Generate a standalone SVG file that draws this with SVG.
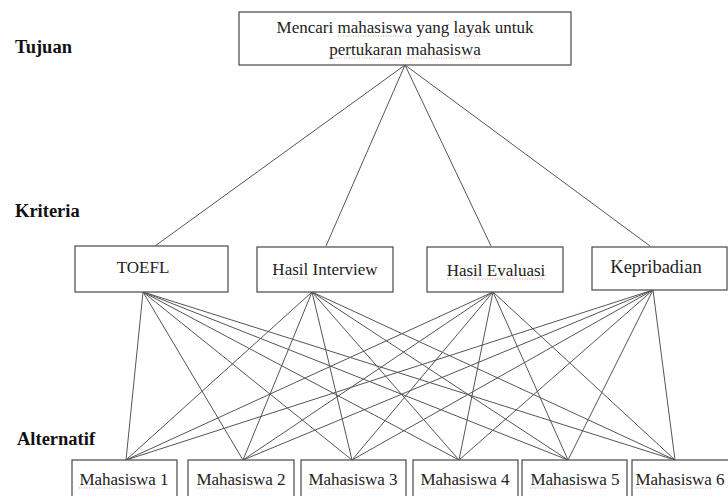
<svg xmlns="http://www.w3.org/2000/svg" width="728" height="496" viewBox="0 0 728 496">
<style>
.box{fill:#fff;stroke:#555;stroke-width:1.3}
.t{font-family:'Liberation Serif','Times New Roman',serif;font-size:17px;fill:#222;text-anchor:middle}
.lbl{font-family:'Liberation Serif','Times New Roman',serif;font-size:18.5px;font-weight:bold;fill:#111}
.k{font-size:18.5px}
#connectors line{stroke:#555;stroke-width:1}
#spellcheck line{stroke:#d44;stroke-width:1;stroke-dasharray:1 1.5;opacity:0.55}
</style>
<rect width="728" height="496" fill="#fff"/>
<g id="labels">
<text class="lbl" x="15" y="53">Tujuan</text>
<text class="lbl" x="15" y="217">Kriteria</text>
<text class="lbl" x="17" y="445">Alternatif</text>
</g>
<g id="connectors">
<line x1="405" y1="65" x2="155" y2="246"/>
<line x1="405" y1="65" x2="326" y2="246"/>
<line x1="405" y1="65" x2="491" y2="246"/>
<line x1="405" y1="65" x2="650" y2="246"/>
<line x1="143" y1="292" x2="126" y2="460"/><line x1="143" y1="292" x2="243" y2="460"/><line x1="143" y1="292" x2="352" y2="460"/><line x1="143" y1="292" x2="459" y2="460"/><line x1="143" y1="292" x2="568" y2="460"/><line x1="143" y1="292" x2="675" y2="460"/>
<line x1="312" y1="292" x2="126" y2="460"/><line x1="312" y1="292" x2="243" y2="460"/><line x1="312" y1="292" x2="352" y2="460"/><line x1="312" y1="292" x2="459" y2="460"/><line x1="312" y1="292" x2="568" y2="460"/><line x1="312" y1="292" x2="675" y2="460"/>
<line x1="493" y1="292" x2="126" y2="460"/><line x1="493" y1="292" x2="243" y2="460"/><line x1="493" y1="292" x2="352" y2="460"/><line x1="493" y1="292" x2="459" y2="460"/><line x1="493" y1="292" x2="568" y2="460"/><line x1="493" y1="292" x2="675" y2="460"/>
<line x1="653" y1="290" x2="126" y2="460"/><line x1="653" y1="290" x2="243" y2="460"/><line x1="653" y1="290" x2="352" y2="460"/><line x1="653" y1="290" x2="459" y2="460"/><line x1="653" y1="290" x2="568" y2="460"/><line x1="653" y1="290" x2="675" y2="460"/>
</g>
<g id="goal">
<rect class="box" x="239" y="12" width="332" height="53"/>
<text class="t" x="405" y="33">Mencari mahasiswa yang layak untuk</text>
<text class="t" x="405" y="55">pertukaran mahasiswa</text>
</g>
<g id="toefl"><rect class="box" x="75" y="246" width="153" height="46"/><text class="t" x="143" y="273">TOEFL</text></g>
<g id="interview"><rect class="box" x="257" y="247" width="136" height="45"/><text class="t" x="325" y="275">Hasil Interview</text></g>
<g id="evaluasi"><rect class="box" x="427" y="247" width="136" height="45"/><text class="t" x="496" y="276">Hasil Evaluasi</text></g>
<g id="kepribadian"><rect class="box" x="592" y="247" width="135" height="43"/><text class="t k" x="656" y="273">Kepribadian</text></g>
<g id="m1"><rect class="box" x="72" y="460" width="105" height="40"/><text class="t" x="124" y="485">Mahasiswa 1</text></g>
<g id="m2"><rect class="box" x="188" y="460" width="106" height="40"/><text class="t" x="241" y="485">Mahasiswa 2</text></g>
<g id="m3"><rect class="box" x="301" y="460" width="105" height="40"/><text class="t" x="353" y="485">Mahasiswa 3</text></g>
<g id="m4"><rect class="box" x="413" y="460" width="105" height="40"/><text class="t" x="465" y="485">Mahasiswa 4</text></g>
<g id="m5"><rect class="box" x="522" y="460" width="105" height="40"/><text class="t" x="575" y="485">Mahasiswa 5</text></g>
<g id="m6"><rect class="box" x="632" y="460" width="105" height="40"/><text class="t" x="680" y="485">Mahasiswa 6</text></g>
<g id="spellcheck">
<line x1="338" y1="36" x2="413" y2="36"/>
<line x1="454" y1="36" x2="491" y2="36"/>
<line x1="329" y1="58" x2="402" y2="58"/>
<line x1="406" y1="58" x2="481" y2="58"/>
<line x1="272" y1="278" x2="308" y2="278"/>
<line x1="447" y1="279" x2="545" y2="279"/>
<line x1="79" y1="488" x2="156" y2="488"/>
<line x1="196" y1="488" x2="273" y2="488"/>
<line x1="308" y1="488" x2="385" y2="488"/>
<line x1="420" y1="488" x2="497" y2="488"/>
<line x1="530" y1="488" x2="607" y2="488"/>
<line x1="635" y1="488" x2="712" y2="488"/>
</g>
</svg>
